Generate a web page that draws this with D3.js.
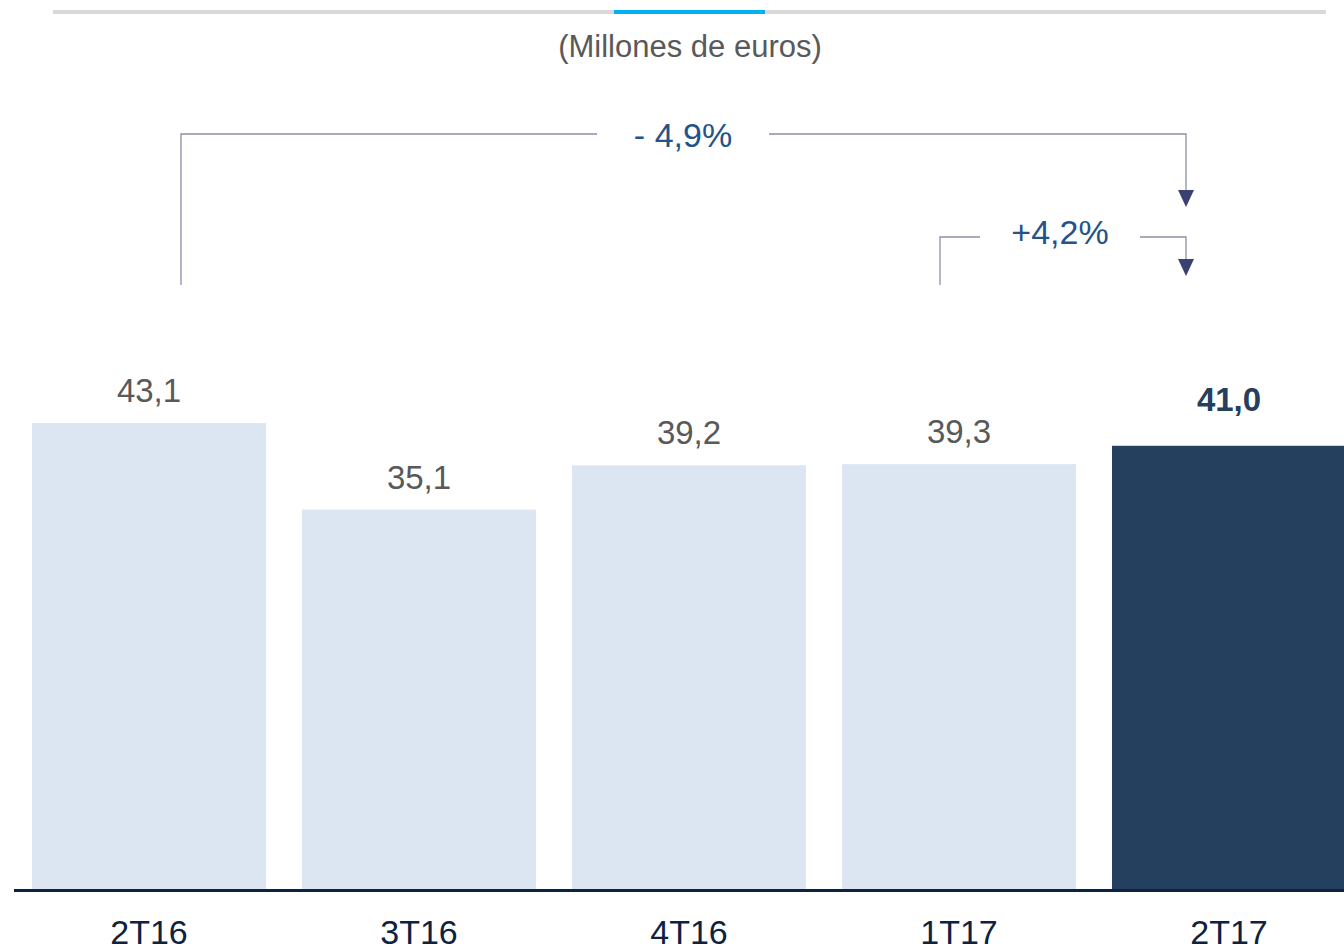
<!DOCTYPE html>
<html>
<head>
<meta charset="utf-8">
<script src="https://cdn.jsdelivr.net/npm/d3@7"></script>
<style>
  body { margin: 0; background: #fff; }
  svg { display: block; font-family: "Liberation Sans", Arial, sans-serif; }
</style>
</head>
<body>
<div id="chart"></div>
<script>
var categories = ["2T16", "3T16", "4T16", "1T17", "2T17"];
var values = [43.1, 35.1, 39.2, 39.3, 41.0];
var valueLabels = ["43,1", "35,1", "39,2", "39,3", "41,0"];
var highlight = "2T17";

// variation brackets: from category -> to category
var changes = [
    {from: "2T16", to: "2T17", label: "- 4,9%", y: 134, tipY: 207, startDx: 32, gap: [597, 769]},
    {from: "1T17", to: "2T17", label: "+4,2%", y: 237, tipY: 276, startDx: -19, gap: [980, 1140]}
];

var width = 1344,
    height = 952;
var baseY = 889;

var svg = d3.select('#chart').append('svg')
        .attr('width', width)
        .attr('height', height);

// top decoration
svg.append('rect').attr('x', 53).attr('y', 10).attr('width', 1273).attr('height', 4).style('fill', '#d9d9d9');
svg.append('rect').attr('x', 614).attr('y', 10).attr('width', 151).attr('height', 4).style('fill', '#00b0f0');

svg.append('text')
        .attr('x', 690).attr('y', 57)
        .attr('text-anchor', 'middle')
        .attr('font-size', 31)
        .attr('fill', '#595959')
        .text('(Millones de euros)');

var x = d3.scaleBand()
        .domain(categories)
        .range([14, 1364])
        .paddingInner(36 / 270)
        .paddingOuter(18 / 270);

var y = d3.scaleLinear()
        .domain([0, 45])
        .range([baseY, baseY - 45 * 10.81]);

var data = categories.map(function (c, i) {
    return {cat: c, value: values[i], label: valueLabels[i]};
});

svg.append('g').selectAll('rect')
        .data(data)
        .enter()
        .append('rect')
        .attr('x', function (d) { return x(d.cat); })
        .attr('y', function (d) { return y(d.value); })
        .attr('width', x.bandwidth())
        .attr('height', function (d) { return y(0) - y(d.value); })
        .style('fill', function (d) { return d.cat === highlight ? '#253f5f' : '#dce6f2'; });

svg.append('g').selectAll('text')
        .data(data)
        .enter()
        .append('text')
        .attr('x', function (d) { return x(d.cat) + x.bandwidth() / 2; })
        .attr('y', function (d) { return y(d.value) - (d.cat === highlight ? 35 : 21); })
        .attr('text-anchor', 'middle')
        .attr('font-size', function (d) { return d.cat === highlight ? 33 : 33; })
        .attr('font-weight', function (d) { return d.cat === highlight ? 'bold' : 'normal'; })
        .attr('fill', function (d) { return d.cat === highlight ? '#253f5f' : '#595959'; })
        .text(function (d) { return d.label; });

// baseline
svg.append('line')
        .attr('x1', 14).attr('x2', width)
        .attr('y1', baseY + 1.5).attr('y2', baseY + 1.5)
        .style('stroke', '#0d2240')
        .style('stroke-width', 3);

// category axis
var axis = svg.append('g')
        .attr('transform', 'translate(0,' + (baseY + 2) + ')')
        .call(d3.axisBottom(x).tickSize(0).tickPadding(29));
axis.select('.domain').remove();
axis.selectAll('text')
        .attr('font-size', 34)
        .attr('font-family', '"Liberation Sans", Arial, sans-serif')
        .attr('fill', '#0d2240');

// brackets
var br = svg.append('g');
changes.forEach(function (c) {
    var x0 = x(c.from) + x.bandwidth() / 2 + c.startDx;
    var x1 = x(c.to) + x.bandwidth() / 2 - 43;
    var startY = 285;
    br.append('path')
            .attr('d', 'M' + x0 + ',' + startY + 'V' + c.y + 'H' + c.gap[0])
            .style('fill', 'none').style('stroke', '#8a8fab').style('stroke-width', 1.3);
    br.append('path')
            .attr('d', 'M' + c.gap[1] + ',' + c.y + 'H' + x1 + 'V' + (c.tipY - 16))
            .style('fill', 'none').style('stroke', '#8a8fab').style('stroke-width', 1.3);
    br.append('path')
            .attr('d', 'M' + (x1 - 8) + ',' + (c.tipY - 17) + 'L' + (x1 + 8) + ',' + (c.tipY - 17) + 'L' + x1 + ',' + c.tipY + 'Z')
            .style('fill', '#3a4070');
    br.append('text')
            .attr('x', (c.gap[0] + c.gap[1]) / 2)
            .attr('y', c.y + (c.y > 200 ? 7 : 13))
            .attr('text-anchor', 'middle')
            .attr('font-size', 34)
            .attr('fill', '#24538a')
            .text(c.label);
});
</script>
</body>
</html>
